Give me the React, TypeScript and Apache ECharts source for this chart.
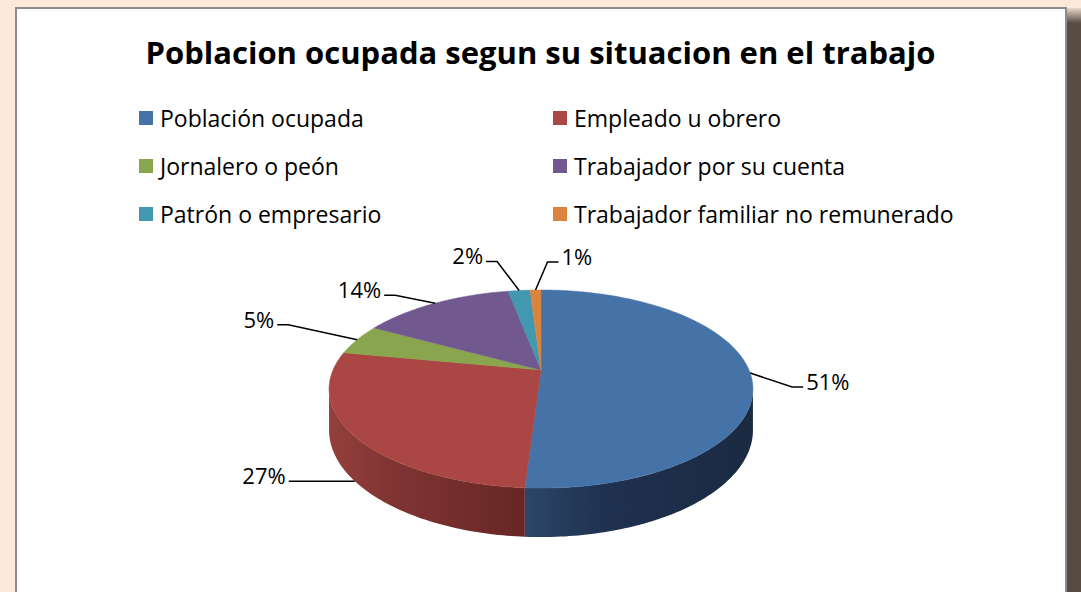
import React, { useEffect, useRef } from "react";
import * as echarts from "echarts";

const TITLE = "Poblacion ocupada segun su situacion en el trabajo";
const CATEGORIES = [
  "Población ocupada",
  "Empleado u obrero",
  "Jornalero o peón",
  "Trabajador por su cuenta",
  "Patrón o empresario",
  "Trabajador familiar no remunerado",
];
const VALUES = [51, 27, 5, 14, 2, 1];
const COLORS = ["#4572A7", "#AA4643", "#89A54E", "#71588F", "#4198AF", "#DB843D"];
const WALL_STOPS = [
  ["#2c4668", "#1f3150", "#1b2a42"],
  ["#943f3c", "#7e3432", "#672625"],
  ["#6a803b", "#5a6e32", "#4e602a"],
  ["#574370", "#4a3960", "#3f3052"],
  ["#337587", "#2b6473", "#245563"],
  ["#a9652e", "#925726", "#7d4a20"],
];
// leader-line elbow offsets (style / layout config)
const LABEL_ELBOW = [
  [42, 14],
  [-55, 0],
  [-69, -15],
  [-40, -8],
  [-22, -29],
  [12, -28],
];

const FONT = "'Open Sans', 'Noto Sans', sans-serif";

// pie geometry (perspective ellipse)
const GEO = { cx: 541, cy: 370, B: 208, A: 95.4, k: 0.192, T: 39.6 };

function rim(theta: number, bottom = false) {
  const s = Math.sin(theta);
  const c = Math.cos(theta);
  const d = 1 + GEO.k * c;
  const x = GEO.cx + (GEO.B * s) / d;
  let y = GEO.cy - (GEO.A * c) / d;
  if (bottom) y += GEO.T / d;
  return [x, y];
}

const TOTAL = VALUES.reduce((a, b) => a + b, 0);
const STARTS: number[] = [];
{
  let acc = 0;
  for (const v of VALUES) {
    STARTS.push((acc / TOTAL) * Math.PI * 2);
    acc += v;
  }
}
const VIS_A = Math.acos(-GEO.k);
const VIS_B = Math.PI * 2 - VIS_A;

function arcPoints(a: number, b: number, bottom: boolean) {
  const pts: number[][] = [];
  const n = Math.max(2, Math.ceil(((b - a) * 180) / Math.PI));
  for (let i = 0; i <= n; i++) pts.push(rim(a + ((b - a) * i) / n, bottom));
  return pts;
}

export default function App() {
  const ref = useRef<HTMLDivElement>(null);
  useEffect(() => {
    if (!ref.current) return;
    const chart = echarts.init(ref.current, null, { renderer: "svg" });
    const data = VALUES.map((v, i) => ({ name: CATEGORIES[i], value: v }));
    const legendBase = {
      orient: "vertical",
      top: 106,
      padding: 0,
      icon: "rect",
      itemWidth: 14,
      itemHeight: 14,
      itemGap: 24,
      selectedMode: false,
      textStyle: { fontFamily: FONT, fontSize: 23, color: "#000", lineHeight: 24, padding: [0, 0, 0, 2] },
    };

    const option: any = {
      animation: false,
      backgroundColor: "#FDE9D9",
      color: COLORS,
      title: {
        text: TITLE,
        left: "center",
        top: 31,
        textStyle: { fontFamily: FONT, fontSize: 31, fontWeight: "bold", color: "#000" },
      },
      legend: [
        { ...legendBase, left: 139, data: [CATEGORIES[0], CATEGORIES[2], CATEGORIES[4]] },
        { ...legendBase, left: 553, data: [CATEGORIES[1], CATEGORIES[3], CATEGORIES[5]] },
      ],
      graphic: [
        {
          type: "rect",
          z: -10,
          shape: { x: 1067, y: 8, width: 14, height: 600 },
          style: {
            fill: new echarts.graphic.LinearGradient(0, 0, 0, 1, [
              { offset: 0, color: "#e8d6c8" },
              { offset: 0.025, color: "#5a4d44" },
              { offset: 1, color: "#564a41" },
            ]),
          },
        },
        {
          type: "rect",
          z: -9,
          shape: { x: 16, y: 8, width: 1050, height: 600 },
          style: { fill: "#ffffff", stroke: "#8c8c8c", lineWidth: 2 },
        },
      ],
      series: [
        {
          type: "pie",
          radius: [0, 0],
          center: [-100, -100],
          silent: true,
          label: { show: false },
          labelLine: { show: false },
          data,
        },
        {
          type: "custom",
          coordinateSystem: "none",
          z: 2,
          silent: true,
          data,
          renderItem: (params: any) => {
            const i = params.dataIndex;
            const a = STARTS[i];
            const b = a + (VALUES[i] / TOTAL) * Math.PI * 2;
            const lo = Math.max(a, VIS_A);
            const hi = Math.min(b, VIS_B);
            if (hi <= lo) return { type: "group", children: [] };
            const top = arcPoints(lo, hi, false);
            const bot = arcPoints(lo, hi, true).reverse();
            const st = WALL_STOPS[i];
            return {
              type: "polygon",
              shape: { points: top.concat(bot) },
              style: {
                fill: new echarts.graphic.LinearGradient(0, 0, 1, 0, [
                  { offset: 0, color: st[0] },
                  { offset: 0.35, color: st[1] },
                  { offset: 1, color: st[2] },
                ]),
                stroke: null,
              },
            };
          },
        },
        {
          type: "custom",
          coordinateSystem: "none",
          z: 3,
          silent: true,
          data,
          renderItem: (params: any) => {
            const i = params.dataIndex;
            const a = STARTS[i];
            const b = a + (VALUES[i] / TOTAL) * Math.PI * 2;
            const pts = [[GEO.cx, GEO.cy]].concat(arcPoints(a, b, false));
            const mid = (a + b) / 2;
            const front = mid > VIS_A && mid < VIS_B;
            const anchor = rim(mid, front);
            const el = LABEL_ELBOW[i];
            const elbow = [anchor[0] + el[0], anchor[1] + el[1]];
            const dir = el[0] >= 0 ? 1 : -1;
            const end = [elbow[0] + dir * 11, elbow[1]];
            const pct = Math.round((VALUES[i] / TOTAL) * 100) + "%";
            return {
              type: "group",
              children: [
                {
                  type: "polygon",
                  shape: { points: pts },
                  style: { fill: COLORS[i], stroke: COLORS[i], lineWidth: 0.5 },
                },
                {
                  type: "polyline",
                  shape: { points: [anchor, elbow, end] },
                  style: { stroke: "#000", lineWidth: 1.5, fill: null },
                  z2: 5,
                },
                {
                  type: "text",
                  z2: 6,
                  style: {
                    text: pct,
                    x: end[0] + dir * 3,
                    y: end[1] - 6,
                    align: dir > 0 ? "left" : "right",
                    verticalAlign: "middle",
                    fill: "#000",
                    font: `22px ${FONT}`,
                  },
                },
              ],
            };
          },
        },
      ],
    };
    chart.setOption(option);
    return () => chart.dispose();
  }, []);
  return (
    <div
      ref={ref}
      style={{ position: "fixed", left: 0, top: 0, width: 1081, height: 592 }}
    />
  );
}
